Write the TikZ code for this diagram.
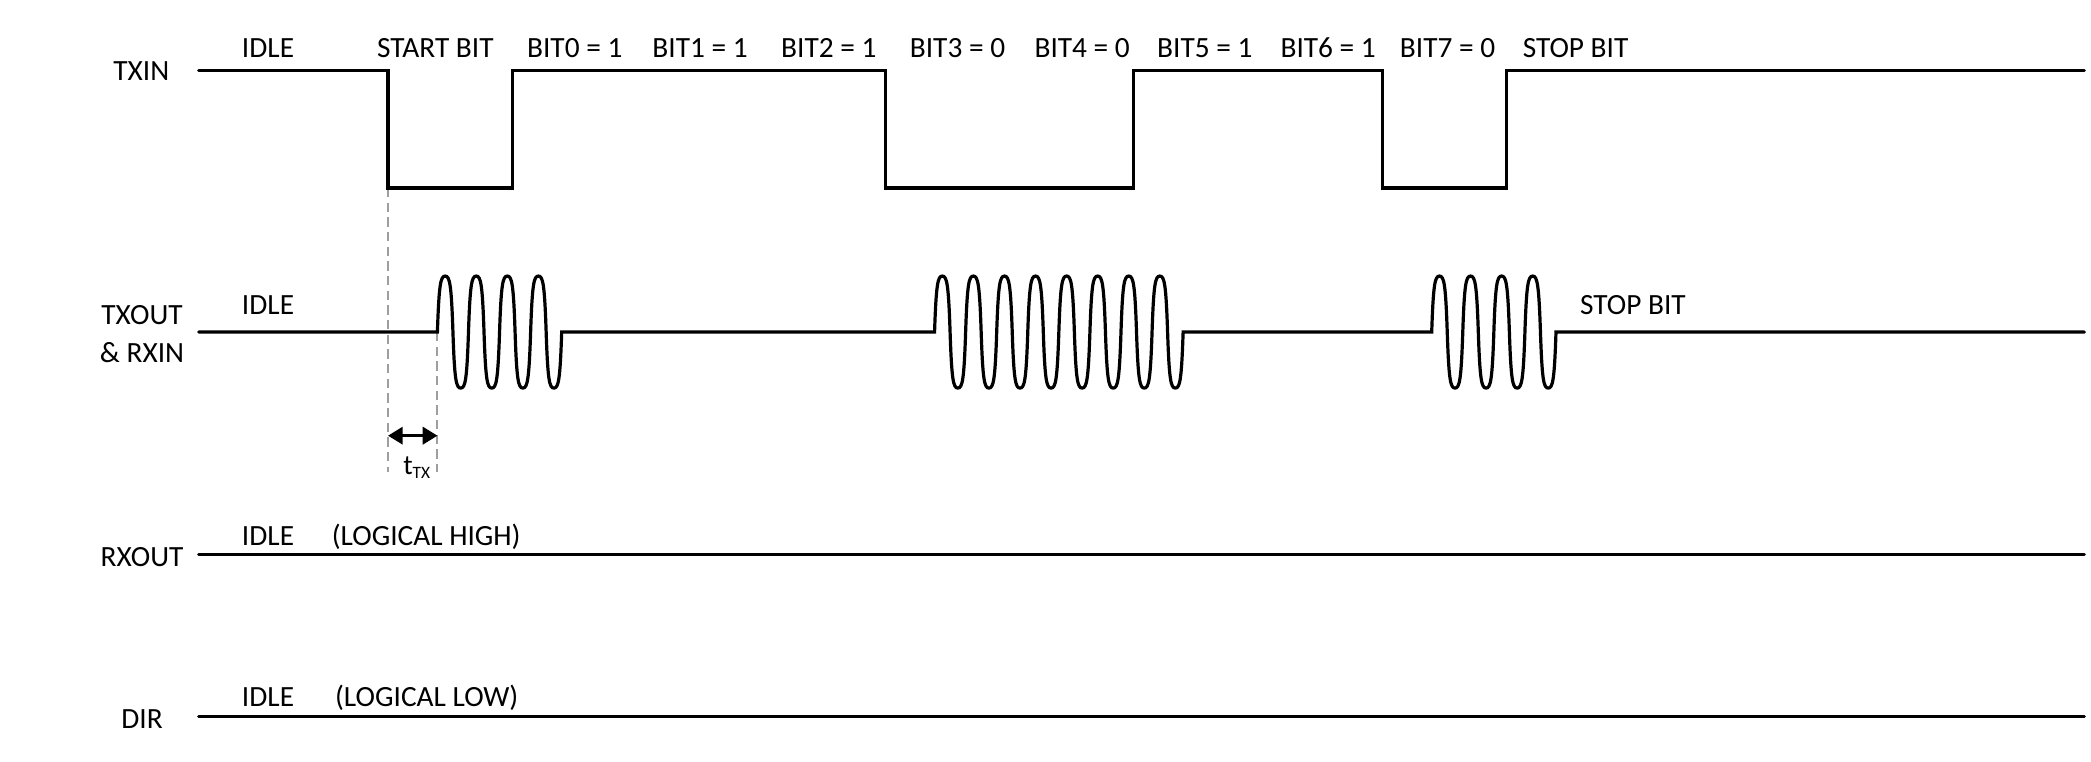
\documentclass[tikz,border=0pt]{standalone}
\usepackage{fontspec}
\setmainfont{Carlito}
\usetikzlibrary{arrows.meta}
\begin{document}
\begin{tikzpicture}[x=1pt,y=-1pt,
  signal/.style={line width=2.4pt, line cap=round, line join=miter},
  lbl/.style={anchor=base, inner sep=0pt, font=\fontsize{22}{26}\selectfont},
  guide/.style={draw=black!38, line width=1.6pt, dash pattern=on 7pt off 4pt},
  dimarrow/.style={line width=2pt, {Triangle[length=11pt,width=13pt]}-{Triangle[length=11pt,width=13pt]}}]
\useasboundingbox (0,0) rectangle (1568,571);

% signal names
\node[lbl] (ntxin) at (106,60.5) {TXIN};
\node[lbl] (ntxout) at (106.5,243) {TXOUT};
\node[lbl] (nrxin) at (106.5,272) {\&\ RXIN};
\node[lbl] (nrxout) at (106.5,424.5) {RXOUT};
\node[lbl] (ndir) at (106.5,546) {DIR};

% TXIN bit labels
\node[lbl] (bidle) at (201,43) {IDLE};
\node[lbl] (bstart) at (326.5,43) {START BIT};
\node[lbl] (b0) at (431,43) {BIT0 = 1};
\node[lbl] (b1) at (525,43) {BIT1 = 1};
\node[lbl] (b2) at (621.5,43) {BIT2 = 1};
\node[lbl] (b3) at (718,43) {BIT3 = 0};
\node[lbl] (b4) at (811.5,43) {BIT4 = 0};
\node[lbl] (b5) at (903.5,43) {BIT5 = 1};
\node[lbl] (b6) at (996,43) {BIT6 = 1};
\node[lbl] (b7) at (1085.5,43) {BIT7 = 0};
\node[lbl] (bstop) at (1181.5,43) {STOP BIT};

% TXOUT labels
\node[lbl] (oidle) at (201,236) {IDLE};
\node[lbl] (ostop) at (1224.5,236) {STOP BIT};

% RXOUT / DIR labels
\node[lbl] (ridle) at (201,408.7) {IDLE};
\node[lbl] (rstate) at (319.6,408.7) {(LOGICAL HIGH)};
\node[lbl] (didle) at (201,530) {IDLE};
\node[lbl] (dstate) at (320,530) {(LOGICAL LOW)};

% key coordinates
\coordinate (txinL) at (149,53);
\coordinate (txinR) at (1563,53);
\coordinate (txoutL) at (149,249);
\coordinate (txoutR) at (1563,249);
\coordinate (rxoutL) at (149,416);
\coordinate (rxoutR) at (1563,416);
\coordinate (dirL) at (149,537.5);
\coordinate (dirR) at (1563,537.5);
\coordinate (fall) at (291,141);
\coordinate (fallB) at (291,354);
\coordinate (burst) at (328,249);
\coordinate (burstB) at (328,354);
\coordinate (arrL) at (291,326.7);
\coordinate (arrR) at (328,326.7);

% guides
\draw[guide] (fall) -- (fallB);
\draw[guide] (burst) -- (burstB);
\draw[dimarrow] (arrL) -- (arrR);
\node[anchor=base, inner sep=0pt, font=\fontsize{21}{24}\selectfont] (ttx) at (312.5,355.5)
  {t\raisebox{-3.5pt}{\fontsize{13}{15}\selectfont TX}};

% TXIN
\draw[signal] (txinL) -- (291,53) -- (fall) -- (384.2,141) -- (384.2,53)
  -- (663.8,53) -- (663.8,141) -- (850.2,141) -- (850.2,53)
  -- (1036.6,53) -- (1036.6,141) -- (1129.8,141) -- (1129.8,53) -- (txinR);

% TXOUT & RXIN  (bursts: start x / last cycle index)
\draw[signal] (txoutL)
  foreach \bx/\bn in {328/3, 700.8/7, 1073.6/3} {
    -- (\bx,249)
    foreach \k in {0,...,\bn} {
      .. controls ({\bx+\k*23.3+1.2}, 213) and ({\bx+\k*23.3+2.4}, 207) .. ({\bx+\k*23.3+5.825}, 207)
      .. controls ({\bx+\k*23.3+9.25}, 207) and ({\bx+\k*23.3+10.45}, 213) .. ({\bx+\k*23.3+11.65}, 249)
      .. controls ({\bx+\k*23.3+12.85}, 285) and ({\bx+\k*23.3+14.05}, 291) .. ({\bx+\k*23.3+17.475}, 291)
      .. controls ({\bx+\k*23.3+20.9}, 291) and ({\bx+\k*23.3+22.1}, 285) .. ({\bx+\k*23.3+23.3}, 249)
    }
  }
  -- (txoutR);

% RXOUT, DIR
\draw[signal] (rxoutL) -- (rxoutR);
\draw[signal] (dirL) -- (dirR);
\end{tikzpicture}
\end{document}
